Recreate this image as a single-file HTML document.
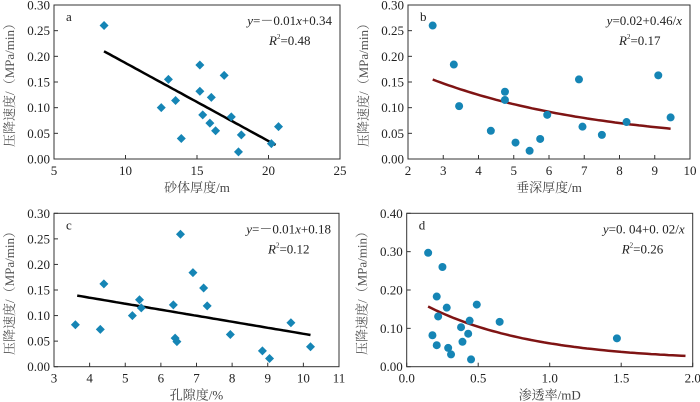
<!DOCTYPE html>
<html><head><meta charset="utf-8"><style>
body{margin:0;background:#fff}
svg{display:block;font-family:"Liberation Serif","Noto Serif CJK SC",serif}
</style></head><body>
<svg id="c" width="700" height="402" viewBox="0 0 700 402"></svg>
<script>
const aX=[8.5,13,15.2,16.9,15.2,16,12.5,13.5,15.4,15.9,17.4,16.3,18.1,13.9,17.9,20.2,20.7];
const aY=[0.26,0.155,0.183,0.163,0.132,0.12,0.1,0.114,0.086,0.07,0.082,0.055,0.047,0.04,0.014,0.03,0.063];
const bX=[2.7,3.3,3.45,4.35,4.75,4.75,5.05,5.45,5.75,5.95,6.85,6.95,7.5,8.2,9.1,9.45];
const bY=[0.26,0.184,0.103,0.055,0.131,0.115,0.032,0.016,0.039,0.086,0.155,0.063,0.047,0.072,0.163,0.081];
const cX=[3.6,4.3,4.4,5.2,5.4,5.45,6.35,6.4,6.45,6.55,6.9,7.2,7.3,7.95,8.85,9.05,9.65,10.2];
const cY=[0.082,0.073,0.162,0.1,0.131,0.115,0.121,0.056,0.049,0.259,0.184,0.154,0.119,0.063,0.031,0.016,0.086,0.039];
const dX=[0.15,0.25,0.21,0.28,0.22,0.18,0.21,0.29,0.31,0.38,0.39,0.44,0.43,0.45,0.49,0.65,1.47];
const dY=[0.297,0.26,0.183,0.154,0.131,0.082,0.056,0.049,0.032,0.103,0.065,0.12,0.086,0.019,0.162,0.117,0.074];
const aFit=[-0.0152,0.339], bFit=[0.2228,0.2054,0.027], cFit=[-0.01176,0.182], dFit=[0.1733,1.327,0.015];
const aXt=[5,10,15,20,25], bXt=[2,3,4,5,6,7,8,9,10], cXt=[3,4,5,6,7,8,9,10,11], dXt=[0,0.5,1,1.5,2];
const y30=[0,0.05,0.1,0.15,0.2,0.25,0.3], y40=[0,0.1,0.2,0.3,0.4];
const svg=document.getElementById('c');
const NS='http://www.w3.org/2000/svg';
function el(t,at,p){const e=document.createElementNS(NS,t);for(const k in at)e.setAttribute(k,at[k]);(p||svg).appendChild(e);return e;}
function panel(o){
 const g=el('g',{});
 
 
 const sx=v=>o.x0+(v-o.xmin)/(o.xmax-o.xmin)*(o.x1-o.x0);
 const sy=v=>o.y0-(v-o.ymin)/(o.ymax-o.ymin)*(o.y0-o.y1);
 const box=el('rect',{x:o.x0,y:o.y1,width:o.x1-o.x0,height:o.y0-o.y1,fill:'none',stroke:'#333','stroke-width':1},g);
 
 
 o.xt.forEach(v=>{const X=sx(v);
  el('line',{x1:X,x2:X,y1:o.y0,y2:o.y0-4,stroke:'#333'},g);
  const t=el('text',{x:X,y:o.y0+16,'text-anchor':'middle','font-size':13,fill:'#222'},g);
  t.textContent=o.xf(v);
  
  });
 o.yt.forEach(v=>{const Y=sy(v);
  el('line',{x1:o.x0,x2:o.x0+4,y1:Y,y2:Y,stroke:'#333'},g);
  const t=el('text',{x:o.x0-4,y:Y+4.5,'text-anchor':'end','font-size':13,fill:'#222'},g);
  t.textContent=v.toFixed(2);
  
  });
 const xl=el('text',{x:(o.x0+o.x1)/2,y:o.y0+33,'text-anchor':'middle','font-size':13,fill:'#444'},g);
 xl.textContent=o.xlab;
 
 
 const yl=el('text',{x:0,y:0,'text-anchor':'middle','font-size':13,fill:'#555',transform:`translate(${o.x0-40},${(o.y0+o.y1)/2}) rotate(-90)`},g);
 yl.textContent='压降速度/（MPa/min）';
 
 
 const lt=el('text',{x:o.x0+12,y:o.y1+16,'font-size':13,fill:'#222'},g);
 lt.textContent=o.id;
 
 
 const eq=el('text',{x:o.x1-8,y:o.y1+20,'text-anchor':'end','font-size':13,fill:'#222'},g);
 eq.innerHTML=o.eq;
 
 
 const r2=el('text',{x:o.x1-71,y:o.y1+40,'font-size':13,fill:'#222'},g);
 r2.innerHTML='<tspan font-style="italic">R</tspan><tspan font-size="7" dy="-6">2</tspan><tspan dy="6">='+o.r2+'</tspan>';
 
 
 let d='';const N=60;
 for(let i=0;i<=N;i++){const x=o.fx0+(o.fx1-o.fx0)*i/N;const y=o.fn(x);d+=(i?'L':'M')+sx(x).toFixed(1)+','+sy(y).toFixed(1);}
 const fl=el('path',{d:d,fill:'none',stroke:o.lc,'stroke-width':2.5},g);
 
 
 o.X.forEach((x,i)=>{const X=sx(x),Y=sy(o.Y[i]);let m;
  if(o.diamond) m=el('path',{d:`M${X},${Y-4.5}L${X+4.5},${Y}L${X},${Y+4.5}L${X-4.5},${Y}Z`,fill:'#1585b5'},g);
  else m=el('circle',{cx:X,cy:Y,r:4,fill:'#1585b5'},g);
  
  });
}
panel({id:'a',x0:54,x1:340,y0:159,y1:5,xmin:5,xmax:25,ymin:0,ymax:0.3,xt:aXt,yt:y30,xf:v=>v,xlab:'砂体厚度/m',
 eq:'<tspan font-style="italic">y</tspan>=－0.01<tspan font-style="italic">x</tspan>+0.34',r2:'0.48',X:aX,Y:aY,diamond:true,lc:'#000',fx0:8.5,fx1:20.5,fn:x=>aFit[0]*x+aFit[1]});
panel({id:'b',x0:408,x1:690,y0:159,y1:5,xmin:2,xmax:10,ymin:0,ymax:0.3,xt:bXt,yt:y30,xf:v=>v,xlab:'垂深厚度/m',
 eq:'<tspan font-style="italic">y</tspan>=0.02+0.46/<tspan font-style="italic">x</tspan>',r2:'0.17',X:bX,Y:bY,diamond:false,lc:'#7f1414',fx0:2.7,fx1:9.45,fn:x=>bFit[0]*Math.exp(-bFit[1]*x)+bFit[2]});
panel({id:'c',x0:54,x1:339,y0:366.7,y1:213.3,xmin:3,xmax:11,ymin:0,ymax:0.3,xt:cXt,yt:y30,xf:v=>v,xlab:'孔隙度/%',
 eq:'<tspan font-style="italic">y</tspan>=－0.01<tspan font-style="italic">x</tspan>+0.18',r2:'0.12',X:cX,Y:cY,diamond:true,lc:'#000',fx0:3.65,fx1:10.2,fn:x=>cFit[0]*x+cFit[1]});
panel({id:'d',x0:406.7,x1:692.7,y0:366.7,y1:213.3,xmin:0,xmax:2,ymin:0,ymax:0.4,xt:dXt,yt:y40,xf:v=>v.toFixed(1),xlab:'渗透率/mD',
 eq:'<tspan font-style="italic">y</tspan>=0. 04+0. 02/<tspan font-style="italic">x</tspan>',r2:'0.26',X:dX,Y:dY,diamond:false,lc:'#7f1414',fx0:0.15,fx1:1.95,fn:x=>dFit[0]*Math.exp(-dFit[1]*x)+dFit[2]});
</script>
</body></html>
